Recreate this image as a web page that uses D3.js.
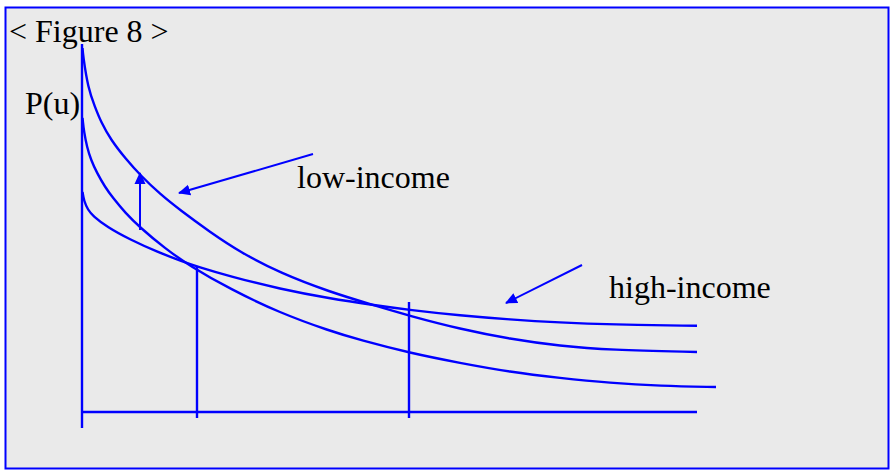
<!DOCTYPE html>
<html>
<head>
<meta charset="utf-8">
<script src="https://cdn.jsdelivr.net/npm/d3@7"></script>
<style>
  html, body { margin: 0; padding: 0; background: #fff; }
  svg { display: block; }
  text { font-family: "Liberation Serif", "Times New Roman", Times, serif; }
</style>
</head>
<body>
<script>
// curves (u along the horizontal axis, P up the vertical one)
const upperCurve = [[0.5,364],[1,357],[6,324],[13,305],[19,290],[29,272],[43,254],[59,236],[78,218],[98,202],[128,180],[158,160],[198,139],[248,120],[291,107],[328,96],[378,83],[428,73],[478,66],[528,62],[615,60]]
const lowerCurve = [[0.5,294],[2,280],[5,265],[9,252],[15,239],[23,225],[31,214],[43,199.5],[58,184.5],[83,163.5],[108,146],[148,123],[198,99],[248,81],[278,72],[328,59],[378,49],[428,40],[478,34],[528,29],[578,26],[634,25]]
const flatCurve = [[0.5,220],[2,211],[6,202],[11,196],[25,185],[48,172.4],[75,160.2],[101,150.3],[115,145.5],[148,135.6],[198,123],[248,113.5],[291,107],[328,102],[378,96.5],[428,92.5],[478,89.5],[528,87.5],[615,86.2]]
const curves = [upperCurve, lowerCurve, flatCurve]

// axes and the two vertical guides
const rules = [
  {from: [0, 368], to: [0, -16]},
  {from: [0, 0], to: [615, 0]},
  {from: [115, 146], to: [115, -6]},
  {from: [327, 110], to: [327, -6]}
]
// annotation arrows
const arrows = [
  {from: [58, 182], to: [58, 239]},
  {from: [231, 258], to: [97, 219]},
  {from: [500, 147], to: [424, 109]}
]
const labels = [
  {text: "< Figure 8 >", at: [-73, 370]},
  {text: "P(u)", at: [-57, 298]},
  {text: "low-income", at: [215, 224]},
  {text: "high-income", at: [527, 114]}
]

const width = 890
const height = 470
const blue = "#0000ff"

const svg = d3.select("body").append("svg")
  .attr("width", width)
  .attr("height", height)

svg.append("rect")
  .attr("x", 5.5).attr("y", 7.5)
  .attr("width", 883).attr("height", 461)
  .attr("fill", "#eaeaea")
  .attr("stroke", blue)
  .attr("stroke-width", 2)

const x = d3.scaleLinear().domain([0, 615]).range([82, 697])
const y = d3.scaleLinear().domain([0, 368]).range([412, 44])

svg.append("defs").append("marker")
  .attr("id", "head")
  .attr("markerUnits", "userSpaceOnUse")
  .attr("viewBox", "0 -6 12 12")
  .attr("refX", 11)
  .attr("refY", 0)
  .attr("markerWidth", 12)
  .attr("markerHeight", 12)
  .attr("orient", "auto")
  .append("path")
  .attr("d", "M0,-5.5L12,0L0,5.5Z")
  .attr("fill", blue)

const line = d3.line()
  .x(d => x(d[0]))
  .y(d => y(d[1]))
  .curve(d3.curveBasis)

svg.selectAll("path.curve")
  .data(curves)
  .join("path")
  .attr("class", "curve")
  .attr("d", line)
  .attr("fill", "none")
  .attr("stroke", blue)
  .attr("stroke-width", 2.4)

svg.selectAll("line.rule")
  .data(rules)
  .join("line")
  .attr("class", "rule")
  .attr("x1", d => x(d.from[0])).attr("y1", d => y(d.from[1]))
  .attr("x2", d => x(d.to[0])).attr("y2", d => y(d.to[1]))
  .attr("stroke", blue)
  .attr("stroke-width", 2.4)

svg.selectAll("line.arrow")
  .data(arrows)
  .join("line")
  .attr("class", "arrow")
  .attr("x1", d => x(d.from[0])).attr("y1", d => y(d.from[1]))
  .attr("x2", d => x(d.to[0])).attr("y2", d => y(d.to[1]))
  .attr("stroke", blue)
  .attr("stroke-width", 2)
  .attr("marker-end", "url(#head)")

svg.selectAll("text")
  .data(labels)
  .join("text")
  .attr("x", d => x(d.at[0]))
  .attr("y", d => y(d.at[1]))
  .attr("font-size", 32)
  .attr("fill", "#000")
  .text(d => d.text)
</script>
</body>
</html>
